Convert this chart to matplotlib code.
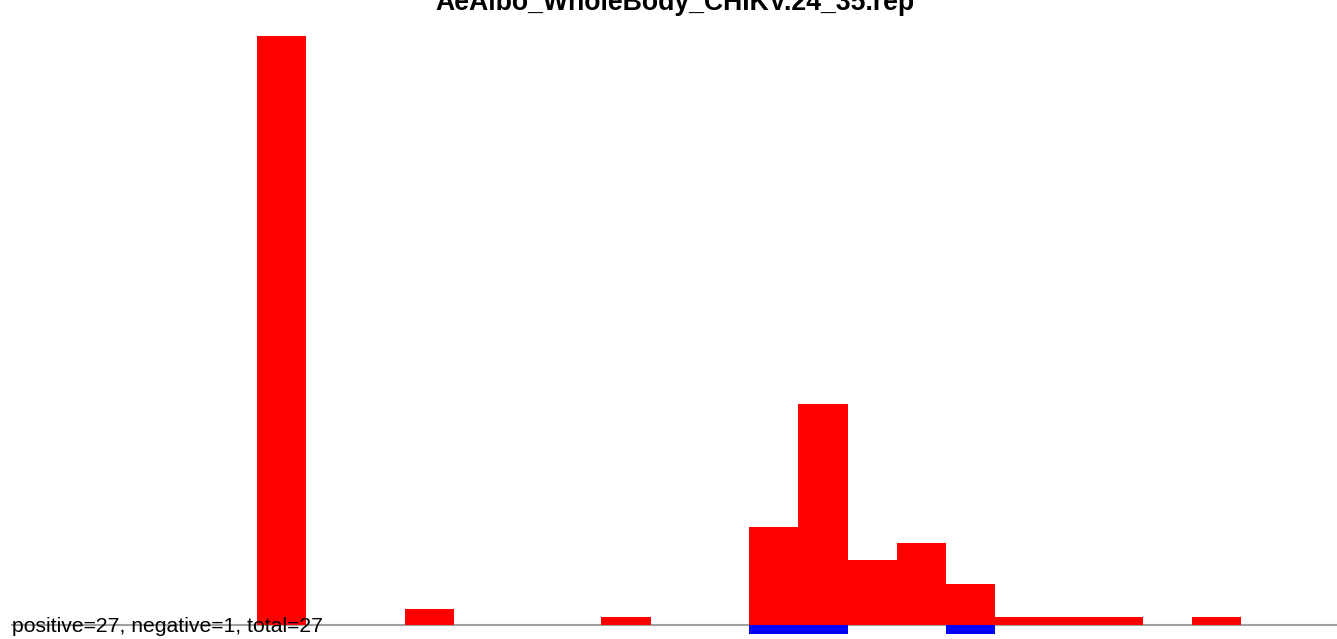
import matplotlib
matplotlib.use("Agg")
import matplotlib.pyplot as plt
import numpy as np

positions = list(range(27))
positive = [0, 0, 0, 0, 0, 72, 0, 0, 2, 0, 0, 0, 1, 0, 0, 12, 27, 8, 10, 5, 1, 1, 1, 0, 1, 0, 0]
negative = [0, 0, 0, 0, 0, 0, 0, 0, 0, 0, 0, 0, 0, 0, 0, 1, 1, 0, 0, 1, 0, 0, 0, 0, 0, 0, 0]
title = "AeAlbo_WholeBody_CHIKV.24_35.rep"
summary = "positive=27, negative=1, total=27"

W, H = 1337, 639
fig = plt.figure(figsize=(W / 100, H / 100), dpi=100)
left = 10.8 / W
ax = fig.add_axes([left, 0, 1 - left, 1])
unit = 8.185
ax.set_ylim(-(H - 625) / unit, 625 / unit)
ax.set_xlim(0, (W - 10.8) / 49.22)

x = np.array(positions)
ax.bar(x, positive, width=1, align="edge", color="#ff0000", linewidth=0)
ax.bar(x, [-v * 1.1 for v in negative], width=1, align="edge", color="#0000ff", linewidth=0)
ax.axhline(0, color="#a0a0a0", linewidth=1.5, zorder=0.5)
ax.axis("off")

fig.text(675 / W, 1 - 10 / H, title, ha="center", va="baseline",
         fontsize=19.2, fontweight="bold", family="Liberation Sans")
fig.text(12 / W, 1 - 632 / H, summary, ha="left", va="baseline",
         fontsize=15.2, family="Liberation Sans")

fig.savefig("out.png", dpi=100)
